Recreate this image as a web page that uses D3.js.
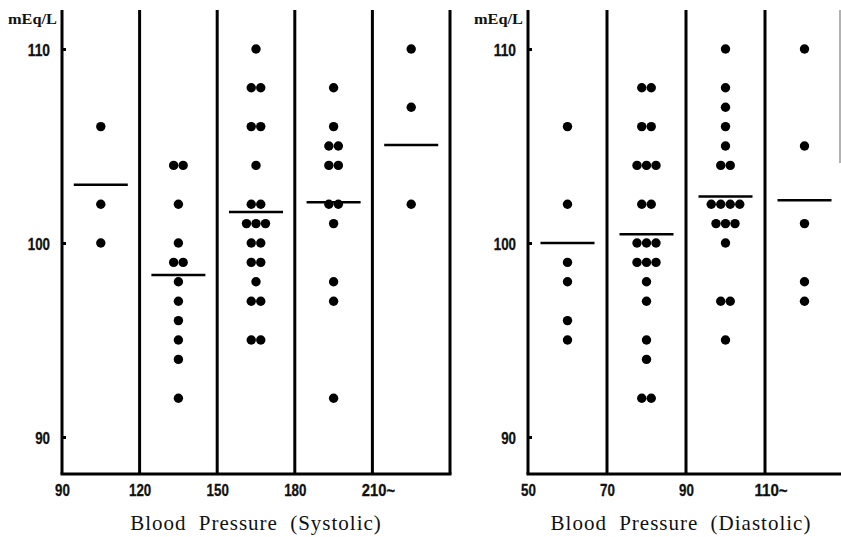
<!DOCTYPE html>
<html>
<head>
<meta charset="utf-8">
<script src="https://cdn.jsdelivr.net/npm/d3@7"></script>
<style>
  body { margin: 0; background: #fff; }
  svg { display: block; }
  .num { font-family: "Liberation Sans Narrow", "Arial Narrow", "Liberation Sans", sans-serif; font-weight: bold; font-size: 16px; fill: #111; stroke: #111; stroke-width: 0.3px; }
  .unit { font-family: "Liberation Serif", "DejaVu Serif", serif; font-weight: bold; font-size: 14px; fill: #111; }
  .title { font-family: "Liberation Serif", "DejaVu Serif", serif; font-size: 21px; fill: #111; letter-spacing: 1px; word-spacing: 6px; }
</style>
</head>
<body>
<svg id="chart" width="841" height="537"></svg>
<script>
// ---- data (serum Cl, mEq/L) ----
const systolicCategories = ["90", "120", "150", "180", "210~"];
const systolicGroups = [
  [106, 102, 100],
  [104, 104, 102, 100, 99, 99, 98, 97, 96, 95, 94, 92],
  [110, 108, 108, 106, 106, 104, 102, 102, 101, 101, 101, 100, 100, 99, 99, 98, 97, 97, 95, 95],
  [108, 106, 105, 105, 104, 104, 102, 102, 101, 98, 97, 92],
  [110, 107, 102]
];
const systolicMeans = [103.0, 98.35, 101.6, 102.1, 105.05];

const diastolicCategories = ["50", "70", "90", "110~"];
const diastolicGroups = [
  [106, 102, 99, 98, 96, 95],
  [108, 108, 106, 106, 104, 104, 104, 102, 102, 100, 100, 100, 99, 99, 99, 98, 97, 95, 94, 92, 92],
  [110, 108, 107, 106, 105, 104, 104, 102, 102, 102, 102, 101, 101, 101, 100, 97, 97, 95],
  [110, 105, 101, 98, 97]
];
const diastolicMeans = [100.0, 100.45, 102.4, 102.2];

const yTicks = [90, 100, 110];
const unitLabel = "mEq/L";
const systolicTitle = "Blood Pressure (Systolic)";
const diastolicTitle = "Blood Pressure (Diastolic)";

// ---- drawing ----
const svg = d3.select("#chart");
const plotTop = 10, plotBottom = 474;
const y = d3.scaleLinear().domain([90, 110]).range([437, 49]);
const digitW = 7.4;
const lenOf = s => s.replace("~", "").length * digitW + (s.includes("~") ? 11 : 0);

function panel(cfg) {
  const n = cfg.groups.length;
  const x = d3.scaleLinear().domain([0, n]).range([cfg.x0, cfg.x1]);
  const g = svg.append("g");

  g.selectAll("line.sep")
    .data(d3.range(0, n + 1))
    .join("line")
    .attr("class", "sep")
    .attr("x1", d => x(d)).attr("x2", d => x(d))
    .attr("y1", plotTop).attr("y2", plotBottom)
    .attr("stroke", "#000").attr("stroke-width", 3);

  g.append("line")
    .attr("x1", x(0) - 1.5).attr("x2", x(n) + 1.5)
    .attr("y1", plotBottom).attr("y2", plotBottom)
    .attr("stroke", "#000").attr("stroke-width", 3);

  const yAxis = d3.axisLeft(y).tickValues(yTicks).tickSize(-4).tickFormat(d3.format("d"));
  const ya = g.append("g").attr("transform", `translate(${x(0)},0)`).call(yAxis);
  ya.select(".domain").remove();
  ya.selectAll(".tick line").attr("stroke", "#000").attr("stroke-width", 3);
  ya.selectAll(".tick text").attr("class", "num").attr("dy", "0.42em").attr("x", -12)
    .attr("textLength", d => lenOf(String(d))).attr("lengthAdjust", "spacingAndGlyphs");

  g.append("text").attr("class", "unit")
    .attr("x", x(0) - 5).attr("y", 24)
    .attr("text-anchor", "end")
    .attr("textLength", 49).attr("lengthAdjust", "spacingAndGlyphs")
    .text(unitLabel);

  const xAxis = d3.axisBottom(x).tickValues(d3.range(0, cfg.categories.length))
    .tickSize(0).tickPadding(11).tickFormat(i => cfg.categories[i]);
  const xa = g.append("g").attr("transform", `translate(0,${plotBottom})`).call(xAxis);
  xa.select(".domain").remove();
  xa.selectAll(".tick text").attr("class", "num")
    .attr("text-anchor", "start")
    .attr("x", d => -cfg.categories[d].replace("~", "").length * digitW / 2)
    .attr("textLength", d => lenOf(cfg.categories[d])).attr("lengthAdjust", "spacingAndGlyphs");

  const r = 4.7, spacing = 9.5;
  cfg.groups.forEach((vals, gi) => {
    const cx = x(gi + 0.5);
    const rows = d3.groups(vals, v => v);
    const pts = [];
    rows.forEach(([v, arr]) => {
      const k = arr.length;
      arr.forEach((_, j) => pts.push({ v, off: (j - (k - 1) / 2) * spacing }));
    });
    g.append("g").selectAll("circle")
      .data(pts).join("circle")
      .attr("cx", d => cx + d.off)
      .attr("cy", d => y(d.v))
      .attr("r", r)
      .attr("fill", "#000");
    g.append("line")
      .attr("x1", cx - 27).attr("x2", cx + 27)
      .attr("y1", y(cfg.means[gi])).attr("y2", y(cfg.means[gi]))
      .attr("stroke", "#000").attr("stroke-width", 2.4);
  });

  svg.append("text").attr("class", "title")
    .attr("x", cfg.titleX).attr("y", 530)
    .attr("text-anchor", "middle")
    .text(cfg.title);
}

panel({ groups: systolicGroups, means: systolicMeans, categories: systolicCategories,
        x0: 62, x1: 450, title: systolicTitle, titleX: 256 });
panel({ groups: diastolicGroups, means: diastolicMeans, categories: diastolicCategories,
        x0: 528, x1: 844, title: diastolicTitle, titleX: 681 });

svg.append("line").attr("x1", 840).attr("x2", 840).attr("y1", 10).attr("y2", 163)
  .attr("stroke", "#999").attr("stroke-width", 1.5);
</script>
</body>
</html>
